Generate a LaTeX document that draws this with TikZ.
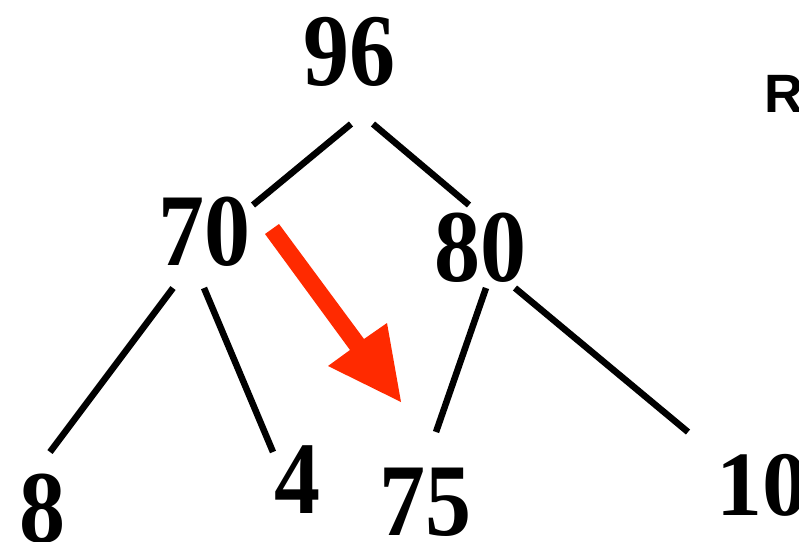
\documentclass[tikz,border=0pt]{standalone}
\usepackage{fontspec}
\setmainfont{Liberation Serif}
\newfontfamily\sansR{Liberation Sans}
\definecolor{arrowred}{HTML}{FF2A00}
\newcommand{\tall}[1]{\scalebox{1}[1.12]{#1}}
\begin{document}
\begin{tikzpicture}[x=1pt,y=-1pt,
  num/.style={anchor=base,inner sep=0pt,font=\fontsize{92}{92}\selectfont\bfseries},
  edge/.style={line width=6.5pt,black}]
\useasboundingbox (0,0) rectangle (799,541);
\clip (0,0) rectangle (799,541);
\fill[white] (0,0) rectangle (799,541);
% numbers
\node[num] (n96) at (349,85) {\tall{96}};
\node[num] (n70) at (204,265) {\tall{70}};
\node[num] (n80) at (480,281) {\tall{80}};
\node[num] (n8) at (42,542) {\tall{8}};
\node[num] (n4) at (297,513) {\tall{4}};
\node[num] (n75) at (425,535) {\tall{75}};
\node[num] (n10) at (762,515) {10};
\node[anchor=base west,inner sep=0pt,font=\fontsize{54}{54}\selectfont\sansR\bfseries] (r) at (764,112) {R};
% edge end points
\coordinate (a1) at (351,124); \coordinate (a2) at (253,205);
\coordinate (b1) at (373,124); \coordinate (b2) at (469,205);
\coordinate (c1) at (173,288); \coordinate (c2) at (50,452);
\coordinate (d1) at (204,288); \coordinate (d2) at (273,452);
\coordinate (e1) at (486,288); \coordinate (e2) at (436,432);
\coordinate (f1) at (515,288); \coordinate (f2) at (688,432);
\draw[edge] (a1) -- (a2);
\draw[edge] (b1) -- (b2);
\draw[edge] (c1) -- (c2);
\draw[edge] (d1) -- (d2);
\draw[edge] (e1) -- (e2);
\draw[edge] (f1) -- (f2);
% red arrow
\fill[arrowred] (265,234) -- (279,224) -- (364,339) -- (387,323) -- (401,402) -- (328,366) -- (350,350) -- cycle;
\end{tikzpicture}
\end{document}
